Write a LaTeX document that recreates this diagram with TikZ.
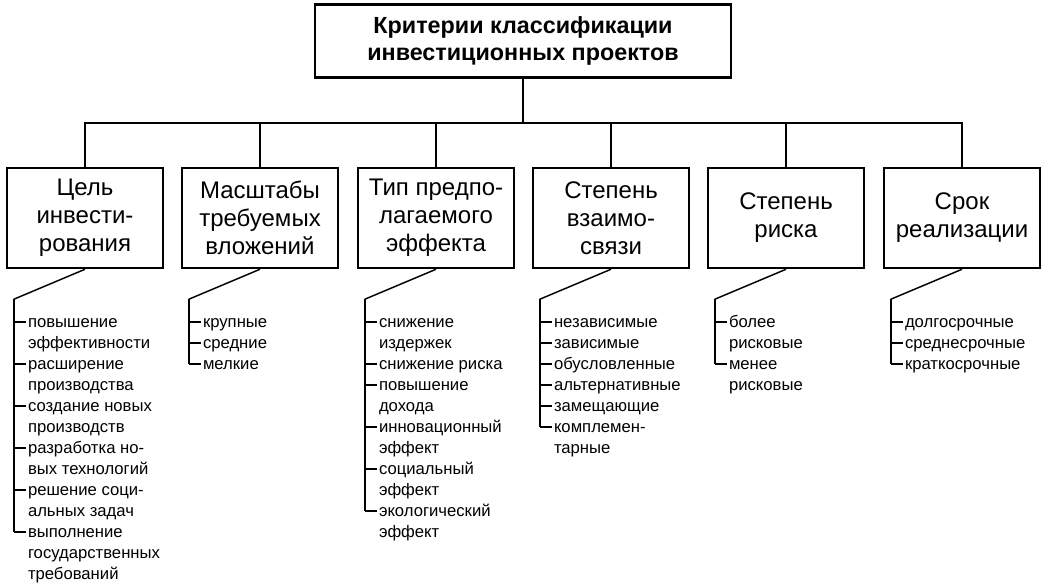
\documentclass[tikz,border=0pt]{standalone}
\usepackage{fontspec}
\setmainfont{Liberation Sans}
\usetikzlibrary{positioning,calc}

\newcommand{\branch}[4]{%
  % #1 box name, #2 ticks (line numbers), #3 last tick line, #4 text
  \coordinate (#1t) at ($(#1.south west)+(8,30)$);
  \draw[line width=1.1pt] (#1.south) -- (#1t);
  \draw[line width=1.6pt] (#1t) -- ($(#1t)+(0,23+21*#3)$);
  \foreach \k in {#2} \draw[line width=1.4pt] ($(#1t)+(0,23+21*\k)$) -- ++(12,0);
  \node[item,anchor=north west] (#1i) at ($(#1t)+(14,12)$) {\rule{0pt}{12pt}#4};
}

\begin{document}
\begin{tikzpicture}[x=0.75pt,y=-0.75pt,
crit/.style={draw,line width=1.9pt,minimum width=117pt,minimum height=75pt,align=center,
  font=\fontsize{18}{21}\selectfont,inner sep=0pt},
item/.style={align=left,inner sep=0pt,font=\fontsize{12.5}{15.75}\selectfont},
line/.style={line width=1.1pt}]
\useasboundingbox (0,0) rectangle (1045,588);

\node[draw,line width=1.9pt,minimum width=312pt,minimum height=55pt,align=center,
  font=\bfseries\fontsize{17.5}{20.5}\selectfont] (root) at (523,41)
  {Критерии классификации\\инвестиционных проектов};

\node[crit] (c1) at (85,218) {Цель\\инвести-\\рования};
\node[crit] (c2) at (260,218) {Масштабы\\требуемых\\вложений};
\node[crit] (c3) at (436,218) {Тип предпо-\\лагаемого\\эффекта};
\node[crit] (c4) at (611,218) {Степень\\взаимо-\\связи};
\node[crit] (c5) at (786,218) {Степень\\риска};
\node[crit] (c6) at (962,218) {Срок\\реализации};

\coordinate (bus) at (523,123);
\draw[line] (root.south) -- (bus);
\draw[line] (c1.north) |- (c6.north |- bus) -- (c6.north);
\foreach \c in {2,3,4,5}
  \draw[line] (c\c.north) -- (c\c.north |- bus);

\branch{c1}{0,2,4,6,8,10}{10}{повышение\\эффективности\\расширение\\производства\\создание новых\\производств\\разработка но-\\вых технологий\\решение соци-\\альных задач\\выполнение\\государственных\\требований}
\branch{c2}{0,1,2}{2}{крупные\\средние\\мелкие}
\branch{c3}{0,2,3,5,7,9}{9}{снижение\\издержек\\снижение риска\\повышение\\дохода\\инновационный\\эффект\\социальный\\эффект\\экологический\\эффект}
\branch{c4}{0,1,2,3,4,5}{5}{независимые\\зависимые\\обусловленные\\альтернативные\\замещающие\\комплемен-\\тарные}
\branch{c5}{0,2}{2}{более\\рисковые\\менее\\рисковые}
\branch{c6}{0,1,2}{2}{долгосрочные\\среднесрочные\\краткосрочные}
\end{tikzpicture}
\end{document}
